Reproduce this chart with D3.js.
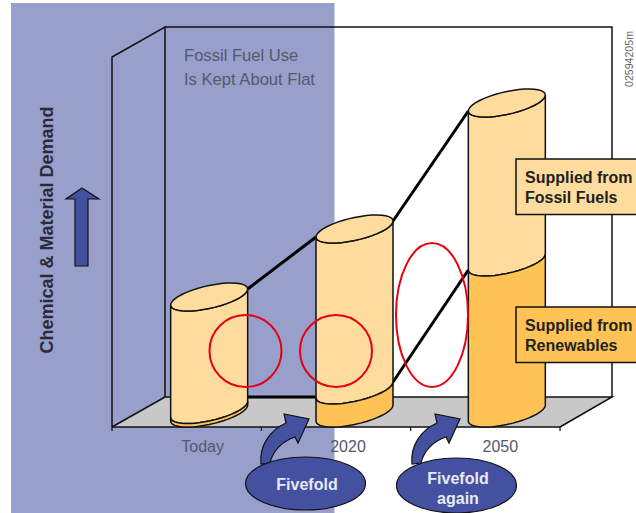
<!DOCTYPE html>
<html>
<head>
<meta charset="utf-8">
<script src="https://d3js.org/d3.v7.min.js"></script>
<style>
    html, body { margin: 0; padding: 0; background: #fff; }
    svg { display: block; }
    text { font-family: "Liberation Sans", Arial, sans-serif; }
</style>
</head>
<body>
<svg id="chart" width="636" height="513"></svg>
<script>
const categories = ["Today", "2020", "2050"];
const renewables = [3.5, 23, 151];
const fossil = [112.5, 161, 159];
const totals = fossil.map((v, i) => v + renewables[i]);

const legendLabels = [["Supplied from", "Fossil Fuels"], ["Supplied from", "Renewables"]];
const growthLabels = [["Fivefold"], ["Fivefold", "again"]];
const wallNote = ["Fossil Fuel Use", "Is Kept About Flat"];

const LIGHT = "#fedc9e";
const DARK = "#ffc355";
const BLUE = "#4450a0";
const PANEL = "#999fcb";
const INK = "#111";

let svg = d3.select("#chart");

let x = d3.scaleBand().domain(categories).range([112, 560]);
let y = d3.scaleLinear().domain([0, 310]).range([413, 103]);

// Cylinder centre sits behind the band centre because of the floor depth,
// and each stack is nudged a little off the even spacing
const depth = 20.5;
const nudge = { "Today": 2, "2020": -2, "2050": 1 };
const rx = 38.5, tilt = 8, ry = 11.5;
let cx = c => x(c) + x.bandwidth() / 2 + depth + nudge[c];

// Point on the slanted ellipse; t=0 is the right end, t=PI the left end
function rim(c, cy, t) {
    return [cx(c) + rx * Math.cos(t), cy - tilt * Math.cos(t) + ry * Math.sin(t)];
}

let line = d3.line();

function arc(c, cy, from, to) {
    return d3.range(0, 41).map(i => rim(c, cy, from + (to - from) * i / 40));
}

// Background panel behind the first part of the plot
svg.append("rect")
    .attr("x", 11).attr("y", 3)
    .attr("width", 323.5).attr("height", 510)
    .attr("fill", PANEL);

// Floor
svg.append("path")
    .attr("d", "M112,427L165,397L612,397L560,427Z")
    .attr("fill", "#c8c8c8");

// Walls
svg.append("path")
    .attr("d", "M112,427V57L165,27V397M165,27H612V397M165,397H612L560,427")
    .attr("fill", "none")
    .attr("stroke", INK)
    .attr("stroke-width", 1.5);

svg.append("path")
    .attr("d", "M112,427L165,397")
    .attr("stroke", INK)
    .attr("stroke-width", 1.5);

// Front axis, ticks on the band edges and labels near the cylinders
svg.append("path")
    .attr("d", "M112,427H560")
    .attr("stroke", INK)
    .attr("stroke-width", 1.5);

svg.selectAll(".edge-tick")
    .data(categories.concat(["end"]))
    .join("line")
    .attr("class", "edge-tick")
    .attr("x1", (d, i) => 112 + i * x.step())
    .attr("x2", (d, i) => 112 + i * x.step())
    .attr("y1", 427)
    .attr("y2", 431)
    .attr("stroke", INK)
    .attr("stroke-width", 1.2);

let axis = svg.append("g")
    .attr("transform", "translate(14,427)")
    .call(d3.axisBottom(x).tickSize(0).tickPadding(14));
axis.select(".domain").remove();
axis.selectAll("text")
    .attr("x", d => nudge[d])
    .attr("font-size", 16)
    .attr("font-family", "Liberation Sans")
    .attr("fill", "#54586e");

// Lines joining the stacks
let connectors = svg.append("g")
    .attr("fill", "none")
    .attr("stroke", "#000")
    .attr("stroke-width", 3);

categories.slice(1).forEach(function (c, i) {
    let prev = categories[i];
    connectors.append("path")
        .attr("d", line([rim(prev, y(totals[i]), 0), rim(c, y(totals[i + 1]), Math.PI)]));
    if (i > 0) {
        connectors.append("path")
            .attr("d", line([rim(prev, y(renewables[i]), 0), rim(c, y(renewables[i + 1]), Math.PI)]));
    } else {
        // Renewables are hidden behind the floor edge for the first step
        connectors.append("path")
            .attr("d", line([[cx(prev) + rx, 397], [cx(c) - rx, 397]]));
    }
});

// Cylinders
categories.forEach(function (c, i) {
    let group = svg.append("g")
        .attr("stroke", INK)
        .attr("stroke-width", 1.5)
        .attr("stroke-linejoin", "round");

    let base = y(0);
    let split = y(renewables[i]);
    let top = y(totals[i]);

    // Upper fossil part
    group.append("path")
        .attr("d", line(arc(c, split, 0, Math.PI).concat(arc(c, top, Math.PI, 0))) + "Z")
        .attr("fill", LIGHT);

    // Lower renewables part
    group.append("path")
        .attr("d", line(arc(c, base, 0, Math.PI).concat(arc(c, split, Math.PI, 0))) + "Z")
        .attr("fill", DARK);

    // Top cap
    group.append("path")
        .attr("d", line(arc(c, top, 0, 2 * Math.PI)) + "Z")
        .attr("fill", LIGHT);
});

// Note on the back wall
svg.selectAll(".wall-note")
    .data(wallNote)
    .join("text")
    .attr("class", "wall-note")
    .attr("x", 184)
    .attr("y", (d, i) => 61 + i * 24)
    .attr("font-size", 16.6)
    .attr("fill", "#54586e")
    .text(d => d);

// Y axis title and its arrow
svg.append("text")
    .attr("transform", "translate(53,230) rotate(-90)")
    .attr("text-anchor", "middle")
    .attr("font-size", 18)
    .attr("font-weight", "bold")
    .attr("fill", "#2a2a38")
    .text("Chemical & Material Demand");

svg.append("path")
    .attr("d", "M82,188L99,199H88V266H75V199H66Z")
    .attr("fill", BLUE)
    .attr("stroke", INK)
    .attr("stroke-width", 1.2);

// Legend boxes
[[159, LIGHT], [307, DARK]].forEach(function (box, i) {
    svg.append("rect")
        .attr("x", 516).attr("y", box[0])
        .attr("width", 125).attr("height", 55.5)
        .attr("fill", box[1])
        .attr("stroke", INK)
        .attr("stroke-width", 1.5);

    svg.selectAll(".legend-" + i)
        .data(legendLabels[i])
        .join("text")
        .attr("class", "legend-" + i)
        .attr("x", 525)
        .attr("y", (d, j) => box[0] + 24 + j * 20)
        .attr("font-size", 16)
        .attr("font-weight", "bold")
        .attr("fill", "#222")
        .text(d => d);
});

// Red highlight rings
[[245.5, 351, 36, 36], [336, 351, 36, 36], [432, 315, 36, 72]].forEach(function (r) {
    svg.append("ellipse")
        .attr("cx", r[0]).attr("cy", r[1])
        .attr("rx", r[2]).attr("ry", r[3])
        .attr("fill", "none")
        .attr("stroke", "#e60012")
        .attr("stroke-width", 2);
});

// Growth callouts: curved arrow plus labelled oval
[[0, 305.5, 483.5, 26.5], [151, 456.5, 485.5, 27.5]].forEach(function (g, i) {
    svg.append("path")
        .attr("transform", "translate(" + g[0] + ",0)")
        .attr("d", "M261,464C259,446 270,430 286,423L284,414L309,419L298,443L295,437C283,441 273,450 270,463Z")
        .attr("fill", BLUE)
        .attr("stroke", INK)
        .attr("stroke-width", 1.2);

    svg.append("ellipse")
        .attr("cx", g[1]).attr("cy", g[2])
        .attr("rx", 60).attr("ry", g[3])
        .attr("fill", BLUE)
        .attr("stroke", INK)
        .attr("stroke-width", 1.2);

    let rows = growthLabels[i];
    svg.selectAll(".growth-" + i)
        .data(rows)
        .join("text")
        .attr("class", "growth-" + i)
        .attr("x", g[1] + 1.5)
        .attr("y", (d, j) => g[2] + (rows.length == 1 ? 6 : -2 + j * 20))
        .attr("text-anchor", "middle")
        .attr("font-size", 16)
        .attr("font-weight", "bold")
        .attr("fill", "#e8eaf6")
        .text(d => d);
});

// Figure number on the right margin
svg.append("text")
    .attr("transform", "translate(633,59) rotate(-90)")
    .attr("text-anchor", "middle")
    .attr("font-size", 10.6)
    .attr("fill", "#666")
    .text("02594205m");
</script>
</body>
</html>
